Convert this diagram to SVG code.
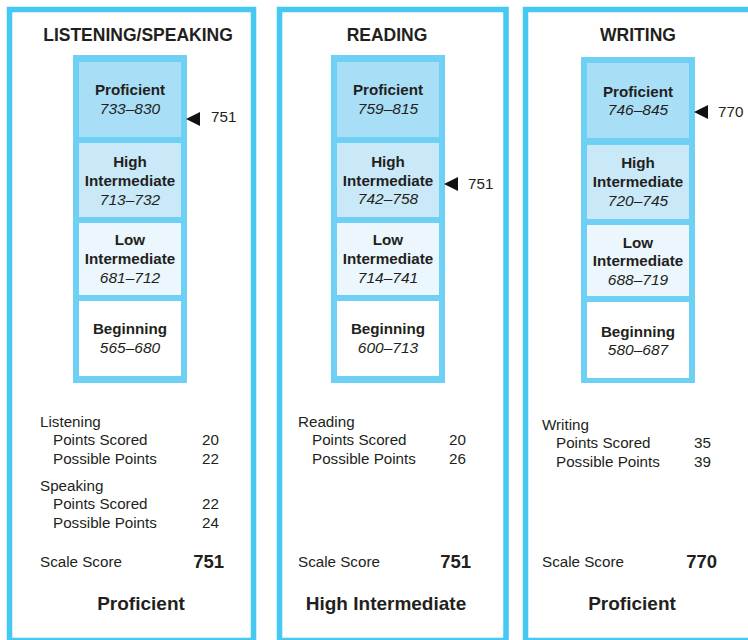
<svg xmlns="http://www.w3.org/2000/svg" width="748" height="640" viewBox="0 0 748 640">
<style>
text{font-family:"Liberation Sans",Arial,Helvetica,sans-serif;fill:#231f20}
.panel{fill:#fff;stroke:#45c8f2;stroke-width:5.5}
.col{fill:#6fd0f5}
.p{fill:#a9def7}.hi{fill:#c9e9f9}.lo{fill:#ebf6fd}.b{fill:#fff}
.title{font-size:17.5px;font-weight:bold;text-anchor:middle}
.cl{font-size:15.2px;font-weight:bold;text-anchor:middle}
.rg{font-size:15.5px;font-style:italic;text-anchor:middle}
.t{font-size:15.2px}
.n{font-size:15.2px;text-anchor:end}
.ss{font-size:18.5px;font-weight:bold;text-anchor:end}
.lvl{font-size:19px;font-weight:bold;text-anchor:middle}
.mk{font-size:15.2px}
.tri{fill:#111}
</style>

<g id="panel-listening-speaking">
<rect class="panel" x="9.5" y="9.5" width="244" height="631"/>
<text class="title" x="138" y="41">LISTENING/SPEAKING</text>
<rect class="col" x="73" y="55" width="114" height="328"/>
<g id="ls-proficient"><rect class="p" x="79" y="62" width="102" height="75"/><text class="cl" x="130" y="95">Proficient</text><text class="rg" x="130" y="114">733–830</text></g>
<g id="ls-high"><rect class="hi" x="79" y="143" width="102" height="74"/><text class="cl" x="130" y="167">High</text><text class="cl" x="130" y="186">Intermediate</text><text class="rg" x="130" y="205">713–732</text></g>
<g id="ls-low"><rect class="lo" x="79" y="223" width="102" height="72"/><text class="cl" x="130" y="245">Low</text><text class="cl" x="130" y="264">Intermediate</text><text class="rg" x="130" y="283">681–712</text></g>
<g id="ls-beginning"><rect class="b" x="79" y="301" width="102" height="75"/><text class="cl" x="130" y="334">Beginning</text><text class="rg" x="130" y="353">565–680</text></g>
<text class="t" x="40" y="427">Listening</text>
<text class="t" x="53" y="445">Points Scored</text><text class="n" x="219" y="445">20</text>
<text class="t" x="53" y="464">Possible Points</text><text class="n" x="219" y="464">22</text>
<text class="t" x="40" y="491">Speaking</text>
<text class="t" x="53" y="509">Points Scored</text><text class="n" x="219" y="509">22</text>
<text class="t" x="53" y="528">Possible Points</text><text class="n" x="219" y="528">24</text>
<text class="t" x="40" y="567">Scale Score</text><text class="ss" x="224" y="568">751</text>
<text class="lvl" x="141" y="610">Proficient</text>
</g>

<g id="panel-reading">
<rect class="panel" x="279.5" y="9.5" width="226.5" height="631"/>
<text class="title" x="387" y="41">READING</text>
<rect class="col" x="331" y="55" width="114" height="328"/>
<g id="rd-proficient"><rect class="p" x="337" y="62" width="102" height="75"/><text class="cl" x="388" y="95">Proficient</text><text class="rg" x="388" y="114">759–815</text></g>
<g id="rd-high"><rect class="hi" x="337" y="143" width="102" height="74"/><text class="cl" x="388" y="167">High</text><text class="cl" x="388" y="186">Intermediate</text><text class="rg" x="388" y="204">742–758</text></g>
<g id="rd-low"><rect class="lo" x="337" y="223" width="102" height="72"/><text class="cl" x="388" y="245">Low</text><text class="cl" x="388" y="264">Intermediate</text><text class="rg" x="388" y="283">714–741</text></g>
<g id="rd-beginning"><rect class="b" x="337" y="301" width="102" height="75"/><text class="cl" x="388" y="334">Beginning</text><text class="rg" x="388" y="353">600–713</text></g>
<text class="t" x="298" y="427">Reading</text>
<text class="t" x="312" y="445">Points Scored</text><text class="n" x="466" y="445">20</text>
<text class="t" x="312" y="464">Possible Points</text><text class="n" x="466" y="464">26</text>
<text class="t" x="298" y="567">Scale Score</text><text class="ss" x="471" y="568">751</text>
<text class="lvl" x="386" y="610">High Intermediate</text>
</g>

<g id="panel-writing">
<rect class="panel" x="525.5" y="9.5" width="240" height="631"/>
<text class="title" x="638" y="41">WRITING</text>
<rect class="col" x="581" y="57" width="114" height="326"/>
<g id="wr-proficient"><rect class="p" x="587" y="63" width="102" height="75"/><text class="cl" x="638" y="97">Proficient</text><text class="rg" x="638" y="115">746–845</text></g>
<g id="wr-high"><rect class="hi" x="587" y="145" width="102" height="74"/><text class="cl" x="638" y="168">High</text><text class="cl" x="638" y="187">Intermediate</text><text class="rg" x="638" y="206">720–745</text></g>
<g id="wr-low"><rect class="lo" x="587" y="225" width="102" height="71"/><text class="cl" x="638" y="248">Low</text><text class="cl" x="638" y="266">Intermediate</text><text class="rg" x="638" y="285">688–719</text></g>
<g id="wr-beginning"><rect class="b" x="587" y="302" width="102" height="76"/><text class="cl" x="638" y="337">Beginning</text><text class="rg" x="638" y="355">580–687</text></g>
<text class="t" x="542" y="430">Writing</text>
<text class="t" x="556" y="448">Points Scored</text><text class="n" x="711" y="448">35</text>
<text class="t" x="556" y="467">Possible Points</text><text class="n" x="711" y="467">39</text>
<text class="t" x="542" y="567">Scale Score</text><text class="ss" x="717" y="568">770</text>
<text class="lvl" x="632" y="610">Proficient</text>
</g>

<g id="connectors">
<g id="ls-pointer"><polygon class="tri" points="186,119 200,112 200,126"/><text class="mk" x="211" y="122">751</text></g>
<g id="rd-pointer"><polygon class="tri" points="444,184 458,177 458,191"/><text class="mk" x="468" y="189">751</text></g>
<g id="wr-pointer"><polygon class="tri" points="694,112 708,105 708,119"/><text class="mk" x="718" y="117">770</text></g>
</g>
</svg>
